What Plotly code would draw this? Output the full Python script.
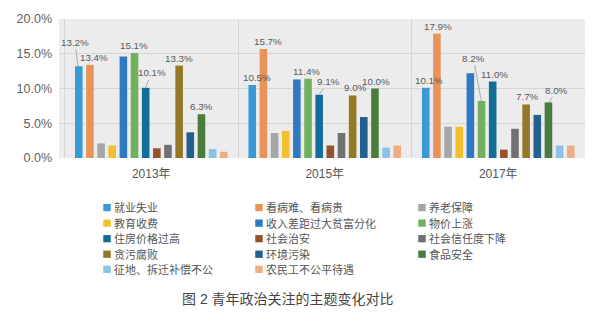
import plotly.graph_objects as go

years = ["2013年", "2015年", "2017年"]
series_names = ["就业失业", "看病难、看病贵", "养老保障",
                "教育收费", "收入差距过大贫富分化", "物价上涨",
                "住房价格过高", "社会治安", "社会信任度下降",
                "贪污腐败", "环境污染", "食品安全",
                "征地、拆迁补偿不公", "农民工不公平待遇"]
colors = ["#3a9ad6", "#e8935a", "#a6a6a8", "#f2bf2e",
          "#2f78c2", "#70b160", "#126d9a", "#94532b", "#717171",
          "#957827", "#22618f", "#4a7d3d", "#8cc2e6", "#eeae85"]

# values (%) per series: [2013, 2015, 2017]
v_jiuye = [13.2, 10.5, 10.1]
v_kanbing = [13.4, 15.7, 17.9]
v_yanglao = [2.1, 3.6, 4.5]
v_jiaoyu = [1.8, 3.9, 4.5]
v_shouru = [14.6, 11.3, 12.2]
v_wujia = [15.1, 11.4, 8.2]
v_zhufang = [10.1, 9.1, 11.0]
v_zhian = [1.4, 1.8, 1.2]
v_xinren = [1.9, 3.6, 4.2]
v_fubai = [13.3, 9.0, 7.7]
v_huanjing = [3.7, 5.9, 6.2]
v_shipin = [6.3, 10.0, 8.0]
v_zhengdi = [1.3, 1.5, 1.8]
v_nongmin = [0.9, 1.8, 1.8]

values = [v_jiuye, v_kanbing, v_yanglao, v_jiaoyu, v_shouru, v_wujia,
          v_zhufang, v_zhian, v_xinren, v_fubai, v_huanjing, v_shipin,
          v_zhengdi, v_nongmin]

# which bars carry a value label: (year index, series index, dx, dy, leader line)
labelled = [(0, 0, -3, -24, True), (0, 1, 5, 0, False), (0, 5, 0, 0, False),
            (0, 6, 6, -15, True), (0, 9, 0, 0, False), (0, 11, 0, 0, False),
            (1, 0, 6, 0, False), (1, 1, 5, 0, False), (1, 5, -1, 0, False),
            (1, 6, 9, -13, True), (1, 9, 3, 0, False), (1, 11, 1, 0, False),
            (2, 0, 4, -1, False), (2, 1, 2, 0, False), (2, 5, -8, -43, True),
            (2, 6, 2, 0, False), (2, 9, 1, 0, False), (2, 11, 8, -12, True)]

W, H = 600, 322
ML, MR, MT, MB = 59, 15, 15, 164
BARGAP = 0.1
FONT = "Liberation Sans, Arial, Noto Sans CJK SC, sans-serif"

plot_w = W - ML - MR
plot_h = H - MT - MB


def px_x(px):
    return (px - ML) / plot_w


def px_y(py):
    return (MT + plot_h - py) / plot_h


fig = go.Figure()
for name, col, vals in zip(series_names, colors, values):
    fig.add_trace(go.Bar(name=name, x=years, y=vals, marker_color=col,
                         marker_line_width=0, showlegend=False))

group_w = plot_w / len(years)
slot = group_w * (1 - BARGAP) / len(series_names)
n = len(series_names)

for yi, si, dx, dy, leader in labelled:
    val = values[si][yi]
    xs = (si - (n - 1) / 2) * slot
    txt = f"{val:.1f}%"
    if leader:
        fig.add_annotation(x=years[yi], y=val, xref="x", yref="y", text=txt,
                           xshift=xs, showarrow=True, arrowhead=0, arrowwidth=0.8,
                           arrowcolor="#9a9a9a", ax=dx, ay=dy, standoff=0,
                           font=dict(size=9.8, color="#5a5a5a", family=FONT))
    else:
        fig.add_annotation(x=years[yi], y=val, xref="x", yref="y", text=txt,
                           xshift=xs + dx, yshift=0, showarrow=False,
                           yanchor="bottom",
                           font=dict(size=9.8, color="#5a5a5a", family=FONT))

# legend drawn as 3 columns x 5 rows
col_sym_x = [107, 259, 422]
row_y = [209, 225, 241, 257, 272.5]
SQ = 7.5
for i, (name, col) in enumerate(zip(series_names, colors)):
    r, c = divmod(i, 3)
    cx, cy = col_sym_x[c], row_y[r]
    fig.add_shape(type="rect", xref="paper", yref="paper",
                  x0=px_x(cx - SQ / 2), x1=px_x(cx + SQ / 2),
                  y0=px_y(cy + SQ / 2), y1=px_y(cy - SQ / 2),
                  fillcolor=col, line_width=0)
    fig.add_annotation(text=name, xref="paper", yref="paper",
                       x=px_x(cx + 5), y=px_y(cy), xanchor="left", yanchor="middle",
                       showarrow=False,
                       font=dict(size=11, color="#555555", family=FONT))

fig.add_annotation(text="图 2 青年政治关注的主题变化对比", xref="paper", yref="paper",
                   x=px_x(288), y=px_y(303),
                   xanchor="center", yanchor="middle", showarrow=False,
                   font=dict(size=14, color="#444444", family=FONT))

fig.update_layout(
    width=W, height=H,
    margin=dict(l=ML, r=MR, t=MT, b=MB, pad=0),
    paper_bgcolor="white", plot_bgcolor="#ececec",
    barmode="group", bargap=BARGAP, bargroupgap=0.32,
    font=dict(family=FONT, color="#595959"),
    showlegend=False,
    xaxis=dict(tickson="boundaries", showgrid=True, gridcolor="#d6d6d6",
               gridwidth=1, ticks="", tickfont=dict(size=12, color="#555555"),
               showline=False, zeroline=False, ticklabelstandoff=7),
    yaxis=dict(range=[0, 20], dtick=5, tickformat=".1f", ticksuffix="%",
               gridcolor="#d6d6d6", gridwidth=1, zeroline=False,
               tickfont=dict(size=12.5, color="#5f5f5f"), ticklabelstandoff=6),
)

fig.write_html("out.html")
